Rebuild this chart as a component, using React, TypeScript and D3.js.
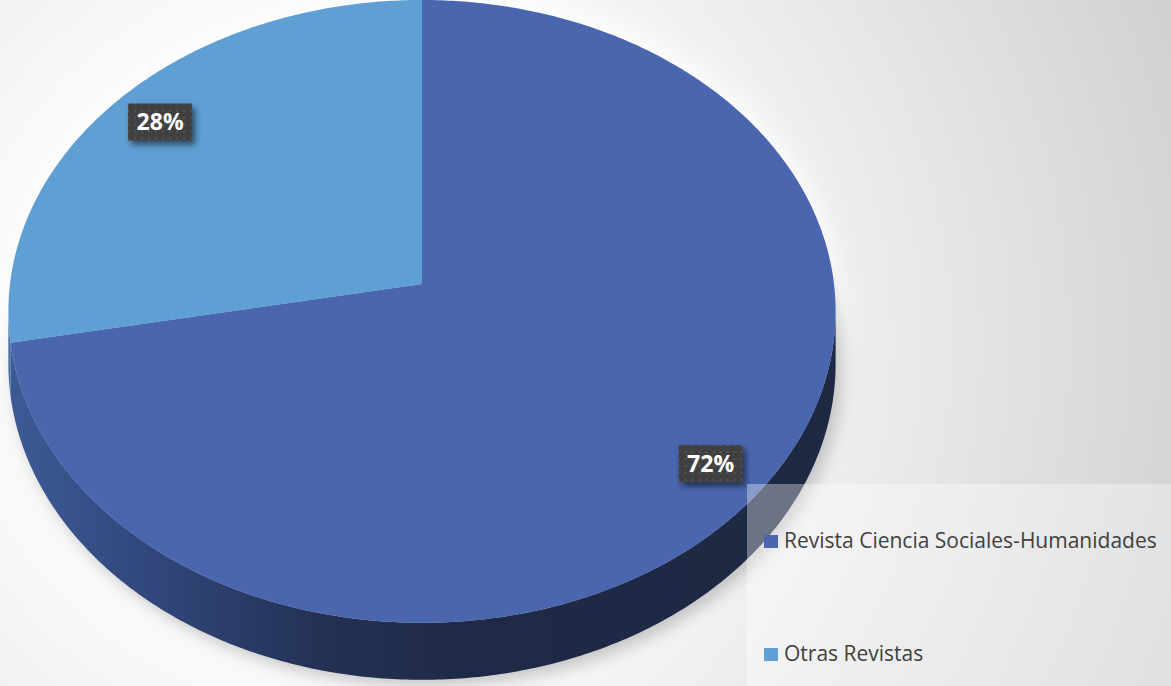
import React from 'react';
import * as d3 from 'd3';

const categories: string[] = ['Revista Ciencia Sociales-Humanidades', 'Otras Revistas'];
const values: number[] = [72, 28];
const pctLabels: string[] = ['72%', '28%'];
const topColors: string[] = ['#4a66ae', '#5f9fd4'];
const sideGrads: string[] = ['side0', 'side1'];

const W = 1171;
const H = 686;
const cx = 422;
const cy = 284;
const A = 412;
const B = 309;
const K = 0.088;
const D = 52;

function proj(a: number, r: number, down = 0): [number, number] {
  const u = r * Math.sin(a);
  const v = -r * Math.cos(a);
  const w = 1 - K * v;
  return [cx + (A * u) / w, cy + (B * v + down) / w];
}

function arcPts(a0: number, a1: number, down = 0): [number, number][] {
  const n = Math.max(2, Math.ceil(Math.abs(a1 - a0) / 0.01));
  const s = d3.scaleLinear().domain([0, n]).range([a0, a1]);
  return d3.range(n + 1).map((i) => proj(s(i), 1, down));
}

const line = d3.line<[number, number]>().x((d) => d[0]).y((d) => d[1]);

export default function App() {
  const arcs = d3.pie<number>().sort(null).value((d) => d)(values);
  const visLo = Math.PI / 2 + Math.asin(K);
  const visHi = 2 * Math.PI - visLo;

  const fullTop = arcPts(0, 2 * Math.PI);
  const fullBottom = arcPts(0, 2 * Math.PI, D);

  const sides = arcs.map((a, i) => {
    const a0 = Math.max(a.startAngle, visLo);
    const a1 = Math.min(a.endAngle, visHi);
    if (a1 <= a0) return null;
    const top = arcPts(a0, a1);
    const bot = arcPts(a1, a0, D);
    return { d: line([...top, ...bot])! + 'Z', i };
  });

  const tops = arcs.map((a, i) => {
    const pts: [number, number][] = [[cx, cy], ...arcPts(a.startAngle, a.endAngle)];
    return { d: line(pts)! + 'Z', i };
  });

  const labelPos = arcs.map((a) => proj((a.startAngle + a.endAngle) / 2, 0.865));

  const legendY = [548, 661];

  return (
    <svg
      width={W}
      height={H}
      style={{ position: 'absolute', left: 0, top: 0, display: 'block' }}
      fontFamily="'Open Sans', 'Noto Sans', sans-serif"
    >
      <defs>
        <radialGradient id="bg" gradientUnits="userSpaceOnUse" cx={330} cy={340} r={900}>
          <stop offset="0" stopColor="#ffffff" />
          <stop offset="0.42" stopColor="#f8f8f8" />
          <stop offset="0.62" stopColor="#ebebeb" />
          <stop offset="1" stopColor="#d1d1d1" />
        </radialGradient>
        <linearGradient id="side0" gradientUnits="userSpaceOnUse" x1={8} x2={836} y1={0} y2={0}>
          <stop offset="0" stopColor="#3e5a96" />
          <stop offset="0.18" stopColor="#30467a" />
          <stop offset="0.38" stopColor="#243154" />
          <stop offset="0.55" stopColor="#1f2a46" />
          <stop offset="1" stopColor="#1d2843" />
        </linearGradient>
        <linearGradient id="side1" gradientUnits="userSpaceOnUse" x1={8} x2={836} y1={0} y2={0}>
          <stop offset="0" stopColor="#3d6e9e" />
          <stop offset="1" stopColor="#2a4c70" />
        </linearGradient>
        <filter id="blurBig" x="-20%" y="-20%" width="140%" height="140%">
          <feGaussianBlur stdDeviation="14" />
        </filter>
        <filter id="blurMid" x="-20%" y="-20%" width="140%" height="140%">
          <feGaussianBlur stdDeviation="8" />
        </filter>
        <filter id="lblShadow" x="-30%" y="-30%" width="170%" height="180%">
          <feGaussianBlur in="SourceAlpha" stdDeviation="3" />
          <feOffset dx="3" dy="4" result="b" />
          <feComponentTransfer>
            <feFuncA type="linear" slope="0.55" />
          </feComponentTransfer>
          <feMerge>
            <feMergeNode />
            <feMergeNode in="SourceGraphic" />
          </feMerge>
        </filter>
        <pattern id="dots" width={7} height={7} patternUnits="userSpaceOnUse">
          <rect width={7} height={7} fill="#3f3f3f" />
          <rect x={2} y={2} width={2} height={2} fill="#575757" />
        </pattern>
      </defs>

      <rect width={W} height={H} fill="url(#bg)" />

      <path d={line(fullTop)! + 'Z'} fill="#ffffff" filter="url(#blurBig)" transform="translate(0,-6)" />
      <path
        d={line(fullBottom)! + 'Z'}
        fill="#9a9a9a"
        opacity={0.55}
        filter="url(#blurMid)"
        transform="translate(6,6)"
      />

      {sides.map((s) =>
        s ? <path key={'s' + s.i} d={s.d} fill={`url(#${sideGrads[s.i]})`} /> : null
      )}
      {tops.map((t) => (
        <path key={'t' + t.i} d={t.d} fill={topColors[t.i]} />
      ))}

      {labelPos.map((p, i) => (
        <g key={'l' + i} transform={`translate(${p[0]},${p[1]})`}>
          <rect x={-32} y={-18} width={64} height={37} fill="url(#dots)" filter="url(#lblShadow)" />
          <text x={0} y={8.5} textAnchor="middle" fill="#ffffff" fontWeight="bold" fontSize={23}>
            {pctLabels[i]}
          </text>
        </g>
      ))}

      <rect x={747} y={484} width={W - 747} height={H - 484} fill="#ffffff" opacity={0.35} />
      {categories.map((c, i) => (
        <g key={'lg' + i}>
          <rect x={764} y={legendY[i] - 13} width={14} height={13} fill={topColors[i]} />
          <text x={784} y={legendY[i]} fontSize={21} fill="#404040">
            {c}
          </text>
        </g>
      ))}
    </svg>
  );
}
